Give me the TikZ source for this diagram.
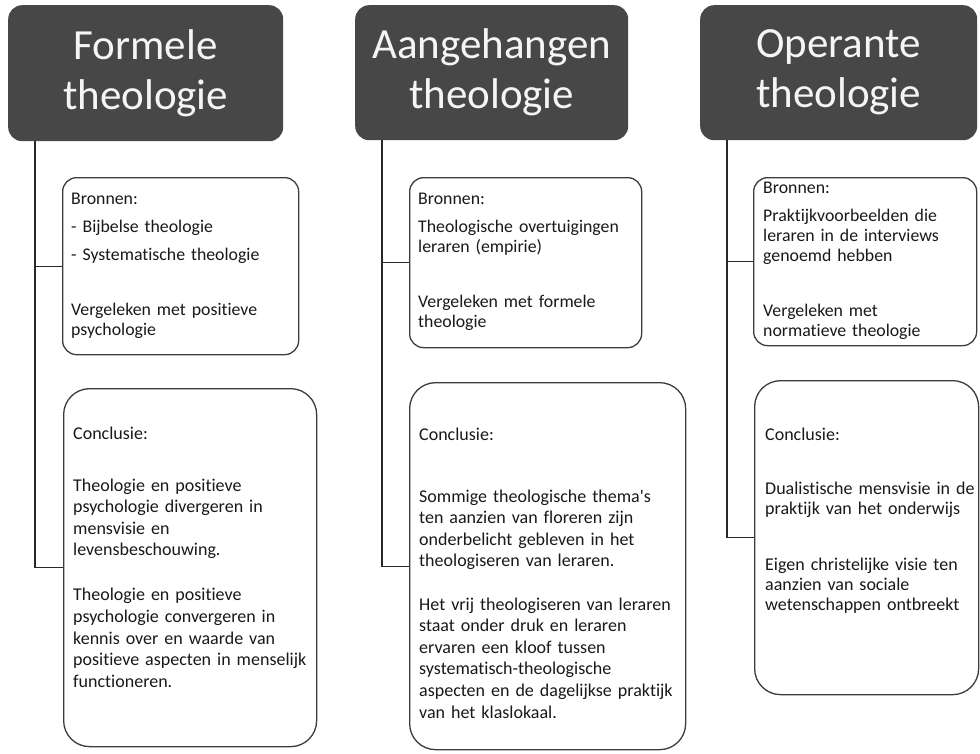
\documentclass[tikz,border=0pt]{standalone}
\usepackage{fontspec}
\setmainfont{Carlito}[Ligatures=NoCommon]
\newfontfamily\plainfont{Carlito}[Ligatures=NoCommon]
\definecolor{headfill}{RGB}{71,71,71}
\definecolor{headtext}{RGB}{245,245,245}
\definecolor{boxline}{RGB}{60,60,60}
\definecolor{connline}{RGB}{40,40,40}
\definecolor{textcol}{RGB}{25,25,25}
\newcommand\bronfont{\fontsize{17.8}{20}\selectfont}
\newcommand\concfont{\fontsize{18}{21.6}\selectfont}
\begin{document}
\begin{tikzpicture}[x=1pt,y=-1pt,
  head/.style={fill=headfill, rounded corners=14pt, anchor=north west, inner sep=0pt,
    text=headtext, align=center, font=\fontsize{43}{50}\selectfont},
  srcbox/.style={draw=boxline, line width=1.3pt, rounded corners=14pt, anchor=north west, inner sep=0pt},
  conbox/.style={srcbox, rounded corners=26pt},
  conn/.style={draw=connline, line width=1.3pt},
  bodytxt/.style={anchor=base west, inner sep=0pt, align=left, text width=260pt, text=textcol}]
\useasboundingbox (0,0) rectangle (980,753);
\fill[white] (0,0) rectangle (980,753);

% headers
\node[head, minimum width=275pt, minimum height=136pt] (h1) at (8,5) {Formele\\theologie};
\node[head, minimum width=273pt, minimum height=135pt] (h2) at (355,5) {Aangehangen\\theologie};
\node[head, minimum width=277pt, minimum height=135pt] (h3) at (700,5) {Operante\\theologie};

% boxes
\node[srcbox, minimum width=236pt, minimum height=177pt] (b1) at (62,177) {};
\node[srcbox, minimum width=232pt, minimum height=170pt] (b2) at (409,177) {};
\node[srcbox, minimum width=223pt, minimum height=168pt] (b3) at (753,177) {};
\node[conbox, minimum width=253pt, minimum height=358pt] (c1) at (63,388) {};
\node[conbox, minimum width=276pt, minimum height=367pt] (c2) at (409,382) {};
\node[conbox, minimum width=224pt, minimum height=314pt] (c3) at (754,380) {};

% connectors
\coordinate (v1) at (35,141);
\coordinate (v2) at (382,140);
\coordinate (v3) at (727,140);
\draw[conn] (v1) |- (c1.west);
\draw[conn] (v1 |- b1.west) -- (b1.west);
\draw[conn] (v2) |- (c2.west);
\draw[conn] (v2 |- b2.west) -- (b2.west);
\draw[conn] (v3) |- (c3.west);
\draw[conn] (v3 |- b3.west) -- (b3.west);

% texts
\node[bodytxt, font=\bronfont] (t1) at (71,204) {Bronnen:\\[8pt]- Bijbelse theologie\\[8pt]- Systematische theologie\\[35pt]Vergeleken met positieve\\psychologie};
\node[bodytxt, font=\bronfont] (t2) at (418,204) {Bronnen:\\[8pt]Theologische overtuigingen\\leraren (empirie)\\[35pt]Vergeleken met formele\\theologie};
\node[bodytxt, font=\bronfont] (t3) at (763,193) {Bronnen:\\[8pt]Praktijkvoorbeelden die\\leraren in de interviews\\genoemd hebben\\[35pt]Vergeleken met\\normatieve theologie};

\node[bodytxt, font=\concfont] (u1) at (73,439) {Conclusie:\\[30.4pt]Theologie en positieve\\psychologie divergeren in\\mensvisie en\\levensbeschouwing.\\[23.4pt]Theologie en positieve\\psychologie convergeren in\\kennis over en waarde van\\positieve aspecten in menselijk\\functioneren.};
\node[bodytxt, font=\concfont] (u2) at (419,440) {Conclusie:\\[40.5pt]Sommige theologische thema{\plainfont\char"27}s\\ten aanzien van floreren zijn\\onderbelicht gebleven in het\\theologiseren van leraren.\\[21.5pt]Het vrij theologiseren van leraren\\staat onder druk en leraren\\ervaren een kloof tussen\\systematisch-theologische\\aspecten en de dagelijkse praktijk\\van het klaslokaal.};
\node[bodytxt, font=\fontsize{18}{19.8}\selectfont] (u3) at (765,440) {Conclusie:\\[35pt]Dualistische mensvisie in de\\praktijk van het onderwijs\\[36pt]Eigen christelijke visie ten\\aanzien van sociale\\wetenschappen ontbreekt};
\end{tikzpicture}
\end{document}
